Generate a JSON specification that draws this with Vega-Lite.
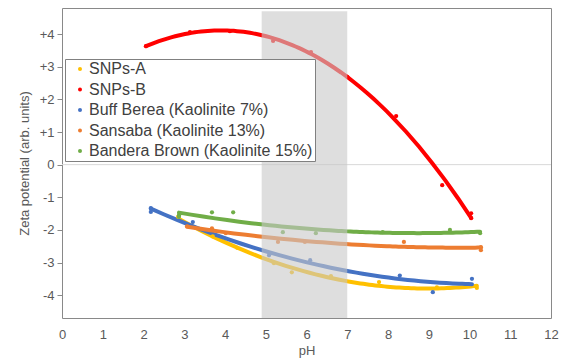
{
  "$schema": "https://vega.github.io/schema/vega-lite/v6.json",
  "width": 489,
  "height": 310,
  "autosize": {"type": "none"},
  "padding": {"left": 62, "top": 8, "right": 19, "bottom": 42},
  "background": "white",
  "datasets": {
    "zeta": [
      {"series": "SNPs-A", "pH": 2.85, "zeta": -1.6},
      {"series": "SNPs-A", "pH": 3.7, "zeta": -2.2},
      {"series": "SNPs-A", "pH": 4.3, "zeta": -2.55},
      {"series": "SNPs-A", "pH": 5.2, "zeta": -3.02},
      {"series": "SNPs-A", "pH": 5.64, "zeta": -3.3},
      {"series": "SNPs-A", "pH": 6.6, "zeta": -3.42},
      {"series": "SNPs-A", "pH": 7.78, "zeta": -3.6},
      {"series": "SNPs-A", "pH": 9.2, "zeta": -3.76},
      {"series": "SNPs-A", "pH": 10.18, "zeta": -3.78},
      {"series": "SNPs-B", "pH": 2.06, "zeta": 3.63},
      {"series": "SNPs-B", "pH": 3.14, "zeta": 4.06},
      {"series": "SNPs-B", "pH": 4.12, "zeta": 4.09},
      {"series": "SNPs-B", "pH": 5.18, "zeta": 3.79},
      {"series": "SNPs-B", "pH": 6.11, "zeta": 3.45},
      {"series": "SNPs-B", "pH": 7.0, "zeta": 2.69},
      {"series": "SNPs-B", "pH": 8.2, "zeta": 1.49},
      {"series": "SNPs-B", "pH": 9.33, "zeta": -0.63},
      {"series": "SNPs-B", "pH": 10.04, "zeta": -1.49},
      {"series": "SNPs-B", "pH": 10.04, "zeta": -1.64},
      {"series": "Buff Berea (Kaolinite 7%)", "pH": 2.18, "zeta": -1.33},
      {"series": "Buff Berea (Kaolinite 7%)", "pH": 2.18, "zeta": -1.45},
      {"series": "Buff Berea (Kaolinite 7%)", "pH": 3.21, "zeta": -1.76},
      {"series": "Buff Berea (Kaolinite 7%)", "pH": 5.08, "zeta": -2.78},
      {"series": "Buff Berea (Kaolinite 7%)", "pH": 6.09, "zeta": -2.93},
      {"series": "Buff Berea (Kaolinite 7%)", "pH": 8.29, "zeta": -3.4},
      {"series": "Buff Berea (Kaolinite 7%)", "pH": 9.1, "zeta": -3.91},
      {"series": "Buff Berea (Kaolinite 7%)", "pH": 10.06, "zeta": -3.5},
      {"series": "Sansaba (Kaolinite 13%)", "pH": 3.07, "zeta": -1.89},
      {"series": "Sansaba (Kaolinite 13%)", "pH": 3.68, "zeta": -1.95},
      {"series": "Sansaba (Kaolinite 13%)", "pH": 4.02, "zeta": -2.1},
      {"series": "Sansaba (Kaolinite 13%)", "pH": 5.3, "zeta": -2.37},
      {"series": "Sansaba (Kaolinite 13%)", "pH": 5.96, "zeta": -2.37},
      {"series": "Sansaba (Kaolinite 13%)", "pH": 8.39, "zeta": -2.37},
      {"series": "Sansaba (Kaolinite 13%)", "pH": 10.28, "zeta": -2.62},
      {"series": "Sansaba (Kaolinite 13%)", "pH": 10.28, "zeta": -2.53},
      {"series": "Bandera Brown (Kaolinite 15%)", "pH": 2.87, "zeta": -1.55},
      {"series": "Bandera Brown (Kaolinite 15%)", "pH": 2.87, "zeta": -1.6},
      {"series": "Bandera Brown (Kaolinite 15%)", "pH": 3.68, "zeta": -1.46},
      {"series": "Bandera Brown (Kaolinite 15%)", "pH": 4.2, "zeta": -1.46},
      {"series": "Bandera Brown (Kaolinite 15%)", "pH": 5.42, "zeta": -2.07},
      {"series": "Bandera Brown (Kaolinite 15%)", "pH": 6.23, "zeta": -2.1},
      {"series": "Bandera Brown (Kaolinite 15%)", "pH": 7.87, "zeta": -2.07},
      {"series": "Bandera Brown (Kaolinite 15%)", "pH": 9.52, "zeta": -2.0},
      {"series": "Bandera Brown (Kaolinite 15%)", "pH": 10.26, "zeta": -2.1}
    ],
    "band": [
      {"from": 4.9, "to": 7.0, "top": 4.7, "bottom": -4.7}
    ],
    "zero": [
      {"left": 0, "right": 12, "level": 0}
    ]
  },
  "encoding": {
    "x": {"field": "pH", "type": "quantitative",
          "scale": {"domain": [0, 12], "nice": false, "zero": false},
          "axis": {"values": [0,1,2,3,4,5,6,7,8,9,10,11,12], "ticks": false, "labelPadding": 10, "labelFlush": false, "title": "pH", "titlePadding": 3}},
    "y": {"field": "zeta", "type": "quantitative",
          "scale": {"domain": [-4.7, 4.8], "nice": false, "zero": false},
          "axis": {"values": [-4,-3,-2,-1,0,1,2,3,4], "tickSize": 5, "tickColor": "#898989", "labelPadding": 3,
                   "labelExpr": "datum.value > 0 ? '+' + datum.value : '' + datum.value",
                   "title": "Zeta potential (arb. units)", "titleX": -31}}
  },
  "layer": [
    {
      "data": {"name": "zero"},
      "mark": {"type": "rule", "color": "#d9d9d9", "strokeWidth": 1},
      "encoding": {
        "x": {"field": "left", "type": "quantitative"},
        "x2": {"field": "right"},
        "y": {"field": "level", "type": "quantitative"}
      }
    },
    {
      "data": {"name": "zeta"},
      "transform": [
        {"filter": "datum.series !== 'SNPs-B'"},
        {"regression": "zeta", "on": "pH", "groupby": ["series"], "method": "poly", "order": 2}
      ],
      "mark": {"type": "line", "strokeWidth": 4, "strokeCap": "round"},
      "encoding": {
        "color": {"field": "series", "type": "nominal",
                  "scale": {"domain": ["SNPs-A", "SNPs-B", "Buff Berea (Kaolinite 7%)", "Sansaba (Kaolinite 13%)", "Bandera Brown (Kaolinite 15%)"],
                            "range": ["#FFC000", "#FF0000", "#4472C4", "#ED7D31", "#70AD47"]}}
      }
    },
    {
      "data": {"name": "zeta"},
      "transform": [
        {"filter": "datum.series === 'SNPs-B'"},
        {"regression": "zeta", "on": "pH", "groupby": ["series"], "method": "poly", "order": 3}
      ],
      "mark": {"type": "line", "strokeWidth": 4, "strokeCap": "round"},
      "encoding": {
        "color": {"field": "series", "type": "nominal"}
      }
    },
    {
      "data": {"name": "zeta"},
      "mark": {"type": "circle", "size": 18, "opacity": 1},
      "encoding": {
        "color": {"field": "series", "type": "nominal"}
      }
    },
    {
      "data": {"name": "band"},
      "mark": {"type": "rect", "color": "#c8c8c8", "opacity": 0.6},
      "encoding": {
        "x": {"field": "from", "type": "quantitative"},
        "x2": {"field": "to"},
        "y": {"field": "top", "type": "quantitative"},
        "y2": {"field": "bottom"}
      }
    }
  ],
  "config": {
    "font": "Liberation Sans",
    "view": {"stroke": "#898989", "strokeWidth": 1},
    "axis": {"labelColor": "#595959", "titleColor": "#595959", "labelFontSize": 13, "titleFontSize": 13, "titleFontWeight": "normal", "grid": false, "domain": false},
    "legend": {"title": null, "orient": "none", "legendX": 3, "legendY": 51,
               "fillColor": "white", "strokeColor": "#808080", "padding": 2,
               "symbolType": "circle", "symbolSize": 16, "symbolOffset": 5, "symbolStrokeWidth": 0,
               "labelFontSize": 16, "labelColor": "#404040", "labelOffset": 1, "labelLimit": 400,
               "rowPadding": 4.5}
  }
}
